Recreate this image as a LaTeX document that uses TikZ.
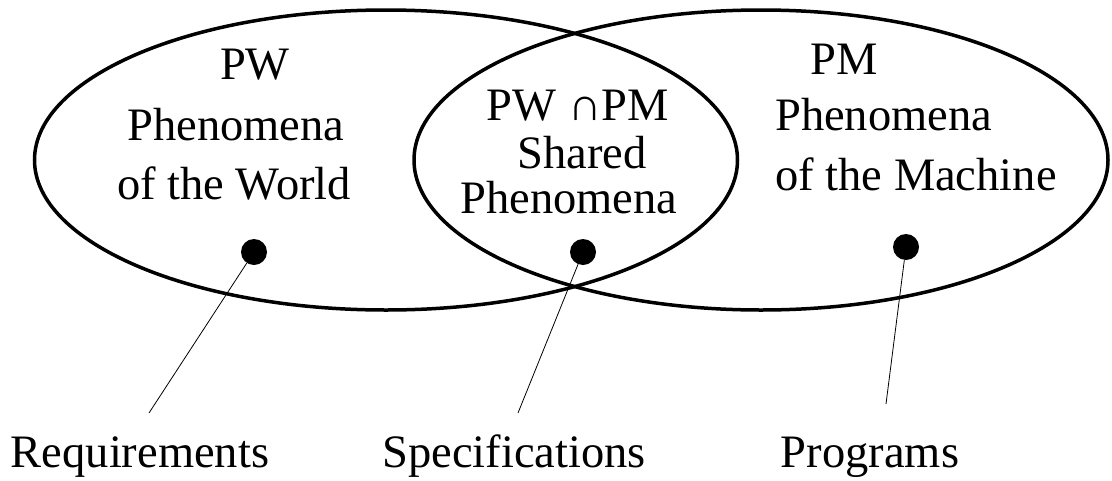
\documentclass[tikz,border=0pt]{standalone}
\usepackage{fontspec}
\setmainfont{Liberation Serif}
\usetikzlibrary{shapes.geometric}
\begin{document}
\begin{tikzpicture}[x=1pt,y=-1pt,
  phenset/.style={draw, ellipse, line width=3.5pt, inner sep=0pt,
                  minimum height=300pt},
  dot/.style={circle, fill=black, inner sep=0pt, minimum size=26pt},
  txt/.style={inner sep=0pt, anchor=base, font=\fontsize{46.5}{56}\selectfont},
  pointer/.style={line width=0.8pt}
]
\useasboundingbox (0,0) rectangle (1112,480);

% the two sets of phenomena
\node[phenset, minimum width=703pt] (world) at (386,160) {};
\node[phenset, minimum width=694pt] (machine) at (761,160) {};

% texts inside the sets
\node[txt] (pw) at (255,79) {PW};
\node[txt] (pwa) at (236,140) {Phenomena};
\node[txt] (pwb) at (234,199) {of the World};

\node[txt] (sh) at (578,120) {PW ∩PM};
\node[txt] (sha) at (582,168) {Shared};
\node[txt] (shb) at (569,213) {Phenomena};

\node[txt] (pm) at (844,74) {PM};
\node[txt, anchor=base west] (pma) at (775,130) {Phenomena};
\node[txt, anchor=base west] (pmb) at (775,190) {of the Machine};

% sample points
\node[dot] (dw) at (254,252) {};
\node[dot] (ds) at (583,252) {};
\node[dot] (dm) at (906,247) {};

% what each point stands for
\node[txt] (req) at (140,467) {Requirements};
\node[txt] (spec) at (514,467) {Specifications};
\node[txt] (prog) at (870,467) {Programs};

\coordinate (ew) at (149,413);
\coordinate (es) at (518,413);
\coordinate (em) at (886,404);

\draw[pointer] (dw) -- (ew);
\draw[pointer] (ds) -- (es);
\draw[pointer] (dm) -- (em);
\end{tikzpicture}
\end{document}
